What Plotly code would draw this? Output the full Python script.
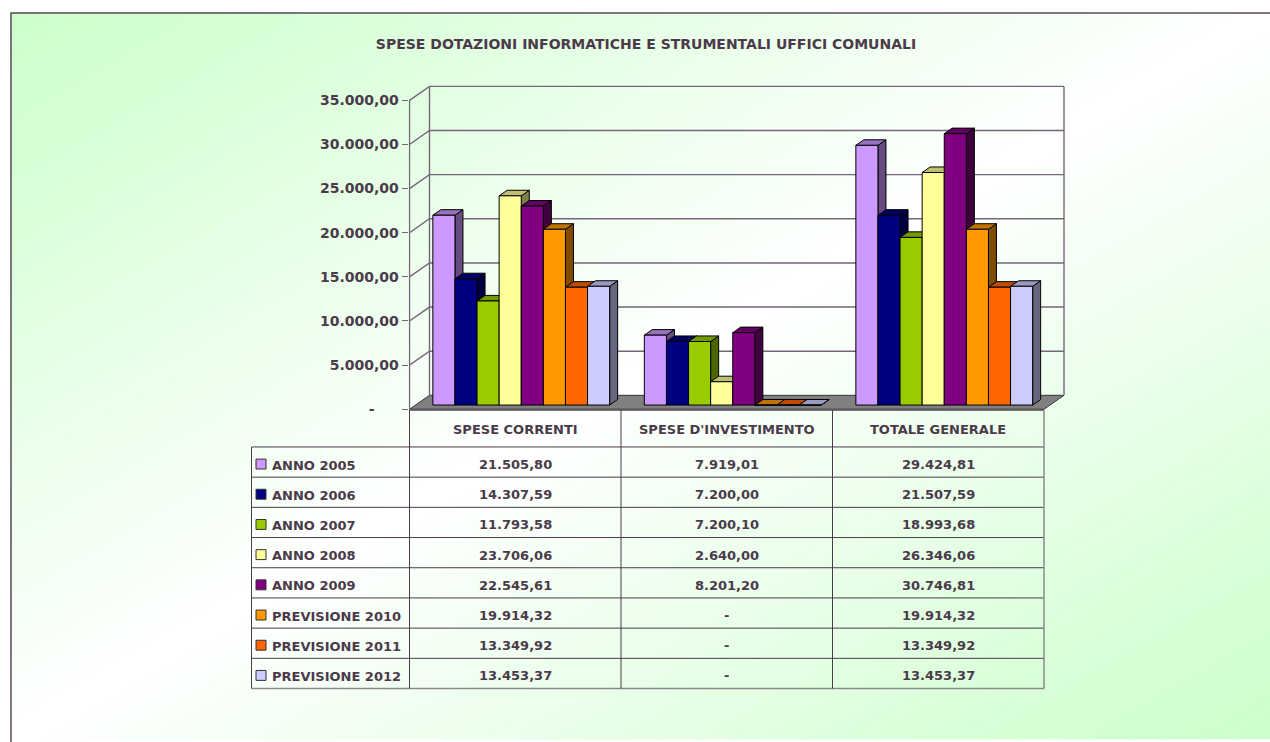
import plotly.graph_objects as go

# dati
categorie = ["SPESE CORRENTI", "SPESE D'INVESTIMENTO", "TOTALE GENERALE"]
serie = ["ANNO 2005", "ANNO 2006", "ANNO 2007", "ANNO 2008", "ANNO 2009",
         "PREVISIONE 2010", "PREVISIONE 2011", "PREVISIONE 2012"]
spese_correnti = [21505.80, 14307.59, 11793.58, 23706.06, 22545.61, 19914.32, 13349.92, 13453.37]
spese_investimento = [7919.01, 7200.00, 7200.10, 2640.00, 8201.20, 0, 0, 0]
totale_generale = [29424.81, 21507.59, 18993.68, 26346.06, 30746.81, 19914.32, 13349.92, 13453.37]
colori = ["#CC99FF", "#000080", "#99CC00", "#FFFF99", "#800080", "#FF9900", "#FF6600", "#CCCCFF"]
tick_vals = [0, 5000, 10000, 15000, 20000, 25000, 30000, 35000]

W, H = 1270, 742
TXT = "#4a3a4a"
FONT = "DejaVu Sans"


def px(x):
    return x / W


def py(y):
    return 1 - y / H


def fmt(v):
    if v == 0:
        return "-"
    s = f"{v:,.2f}"
    return s.replace(",", "X").replace(".", ",").replace("X", ".")


def shade(c, k):
    r, g, b = int(c[1:3], 16), int(c[3:5], 16), int(c[5:7], 16)
    return "rgb(%d,%d,%d)" % (r * k, g * k, b * k)


# geometria del piano frontale (pixel)
X0, CAT = 409.5, 211.5          # px di x=-0.5, px per categoria
Y0, VPX = 412, 311 / 35000      # px di y=0, px per unita'
DX, DY = 20 / CAT, 14 / VPX     # profondita' delle pareti
F0, F1 = 0.3, 0.7               # profondita' delle barre
BW = 22.1 / CAT                 # larghezza barra
XR = [-0.504, 2.62]
YR = [-300, 37300]
dom_x = [px(X0 + (XR[0] + 0.5) * CAT), px(X0 + (XR[1] + 0.5) * CAT)]
dom_y = [py(Y0 - YR[0] * VPX), py(Y0 - YR[1] * VPX)]

fig = go.Figure()

# sfondo sfumato in diagonale
shapes = []
FX0, FY0, FX1, FY1 = 11, 13, 1272, 744


def clip(poly, f):
    out = []
    for i in range(len(poly)):
        p, q = poly[i], poly[(i + 1) % len(poly)]
        fp, fq = f(p), f(q)
        if fp >= 0:
            out.append(p)
        if (fp >= 0) != (fq >= 0):
            t = fp / (fp - fq)
            out.append((p[0] + t * (q[0] - p[0]), p[1] + t * (q[1] - p[1])))
    return out


N = 70
for k in range(N):
    a, b = 2 * k / N, 2 * (k + 1) / N + 0.002
    poly = clip([(0, 0), (1, 0), (1, 1), (0, 1)], lambda p: p[0] + p[1] - a)
    poly = clip(poly, lambda p: b - (p[0] + p[1]))
    if len(poly) < 3:
        continue
    t = (k + 0.5) / N
    g = abs(2 * t - 1)
    col = "rgb(%d,%d,%d)" % (255 - 51 * g, 255, 255 - 51 * g)
    path = "M " + " L ".join(
        "%.5f %.5f" % (px(FX0 + u * (FX1 - FX0)), py(FY0 + v * (FY1 - FY0))) for u, v in poly) + " Z"
    shapes.append(dict(type="path", path=path, xref="paper", yref="paper",
                       fillcolor=col, line=dict(color=col, width=1), layer="below"))

shapes.append(dict(type="rect", xref="paper", yref="paper", x0=px(FX0), y0=py(FY0), x1=px(1290), y1=py(770),
                   line=dict(color="#5a4a5a", width=1.5), layer="below"))

# pavimento
fig.add_trace(go.Scatter(
    x=[-0.5, 2.5, 2.5 + DX, -0.5 + DX, -0.5], y=[0, 0, DY, DY, 0],
    fill="toself", fillcolor="#808080", mode="lines", line=dict(color="#333333", width=1),
    hoverinfo="skip", showlegend=False))

# griglia e pareti
gx, gy = [], []
for v in tick_vals[1:]:
    gx += [-0.5, -0.5 + DX, 2.5 + DX, None]
    gy += [v, v + DY, v + DY, None]
for xx in [-0.5 + DX, 2.5 + DX]:
    gx += [xx, xx, None]
    gy += [DY, tick_vals[-1] + DY, None]
gx += [-0.5, -0.5]
gy += [0, tick_vals[-1]]
fig.add_trace(go.Scatter(x=gx, y=gy, mode="lines", line=dict(color="#76667a", width=1.4),
                         hoverinfo="skip", showlegend=False))

# facce laterali e superiori delle barre
valori = [[spese_correnti[j], spese_investimento[j], totale_generale[j]] for j in range(len(serie))]
ddx, ddy = (F1 - F0) * DX, (F1 - F0) * DY
for j in range(len(serie)):
    sx, sy, tx, ty = [], [], [], []
    for c in range(len(categorie)):
        xl = c - 4 * BW + j * BW + F0 * DX
        xr = xl + BW
        yb = F0 * DY
        yt = yb + valori[j][c]
        sx += [xr, xr + ddx, xr + ddx, xr, xr, None]
        sy += [yb, yb + ddy, yt + ddy, yt, yb, None]
        tx += [xl, xr, xr + ddx, xl + ddx, xl, None]
        ty += [yt, yt, yt + ddy, yt + ddy, yt, None]
    fig.add_trace(go.Scatter(x=sx, y=sy, fill="toself", fillcolor=shade(colori[j], 0.5), mode="lines",
                             line=dict(color="black", width=1), hoverinfo="skip", showlegend=False))
    fig.add_trace(go.Scatter(x=tx, y=ty, fill="toself", fillcolor=shade(colori[j], 0.75), mode="lines",
                             line=dict(color="black", width=1), hoverinfo="skip", showlegend=False))

# facce frontali
for j in range(len(serie)):
    fig.add_trace(go.Bar(
        x=list(range(len(categorie))), y=valori[j], base=F0 * DY,
        offset=-4 * BW + j * BW + F0 * DX, width=BW, name=serie[j],
        marker=dict(color=colori[j], line=dict(color="black", width=1)),
        xaxis="x2", yaxis="y2", showlegend=False, hoverinfo="skip"))

# tabella dati
ann = []
T_TOP, H_HEAD, ROW = 413, 37, 30.4
T_LEFT = 251.5
cols = [X0 + k * CAT for k in range(len(categorie) + 1)]
r0 = T_TOP + H_HEAD
r_end = r0 + ROW * len(serie)
lc = "#4a3a4a"
shapes.append(dict(type="line", xref="paper", yref="paper", x0=px(cols[0]), x1=px(cols[-1]),
                   y0=py(T_TOP), y1=py(T_TOP), line=dict(color=lc, width=1)))
for i in range(len(serie) + 1):
    yy = r0 + i * ROW
    shapes.append(dict(type="line", xref="paper", yref="paper", x0=px(T_LEFT), x1=px(cols[-1]),
                       y0=py(yy), y1=py(yy), line=dict(color=lc if i < len(serie) else "#8a8a8a",
                                                       width=1 if i < len(serie) else 1.5)))
for k, xx in enumerate(cols):
    shapes.append(dict(type="line", xref="paper", yref="paper", x0=px(xx), x1=px(xx),
                       y0=py(T_TOP), y1=py(r_end),
                       line=dict(color=lc if k < len(categorie) else "#8a8a8a",
                                 width=1 if k < len(categorie) else 1.5)))
shapes.append(dict(type="line", xref="paper", yref="paper", x0=px(T_LEFT), x1=px(T_LEFT),
                   y0=py(r0), y1=py(r_end), line=dict(color=lc, width=1)))

tf = dict(family=FONT, size=13, color=TXT, weight="bold")
for k, cat in enumerate(categorie):
    ann.append(dict(text=cat, x=px((cols[k] + cols[k + 1]) / 2), y=py(T_TOP + H_HEAD / 2 + 1),
                    xref="paper", yref="paper", showarrow=False, xanchor="center", yanchor="middle",
                    font=tf))
for i, s in enumerate(serie):
    yc = r0 + (i + 0.5) * ROW
    shapes.append(dict(type="rect", xref="paper", yref="paper", x0=px(256), x1=px(266),
                       y0=py(yc - 3), y1=py(yc + 7), fillcolor=colori[i],
                       line=dict(color="#333333", width=1)))
    ann.append(dict(text=s, x=px(270), y=py(yc + 3), xref="paper", yref="paper", showarrow=False,
                    xanchor="left", yanchor="middle", font=tf))
    for k in range(len(categorie)):
        ann.append(dict(text=fmt(valori[i][k]), x=px((cols[k] + cols[k + 1]) / 2), y=py(yc + 2.5),
                        xref="paper", yref="paper", showarrow=False, xanchor="center",
                        yanchor="middle", font=tf))

tick_text = [fmt(v) if v else "-" + "\u00a0" * 5 for v in tick_vals]

fig.update_layout(
    width=W, height=H,
    margin=dict(l=0, r=0, t=0, b=0),
    paper_bgcolor="white", plot_bgcolor="rgba(0,0,0,0)",
    barmode="overlay",
    title=dict(text="SPESE DOTAZIONI INFORMATICHE E STRUMENTALI UFFICI COMUNALI",
               x=px(646), y=py(44), xref="paper", yref="paper", xanchor="center", yanchor="middle",
               font=dict(family=FONT, size=14, color=TXT, weight="bold")),
    xaxis=dict(range=XR, domain=dom_x, visible=False, fixedrange=True),
    yaxis=dict(range=YR, domain=dom_y, tickvals=tick_vals, ticktext=tick_text,
               ticks="outside", ticklen=6, tickcolor="#76667a", tickwidth=1.3,
               showgrid=False, zeroline=False, showline=False, fixedrange=True,
               tickfont=dict(family=FONT, size=14, color=TXT, weight="bold")),
    xaxis2=dict(range=XR, domain=dom_x, anchor="y2", visible=False, fixedrange=True),
    yaxis2=dict(range=YR, domain=dom_y, anchor="x2", visible=False, fixedrange=True),
    shapes=shapes,
    annotations=ann,
)

# niente margine del body: la figura occupa tutta la finestra
fig.write_html("out.html", config={"displayModeBar": False},
               post_script="document.body.style.margin='0';document.body.style.overflow='hidden';")
